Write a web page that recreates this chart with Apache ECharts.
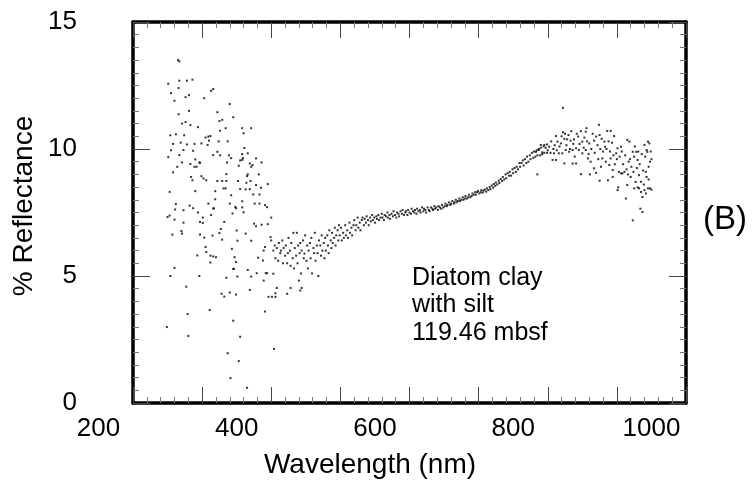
<!DOCTYPE html>
<html><head><meta charset="utf-8">
<script src="https://cdn.jsdelivr.net/npm/echarts@6/dist/echarts.min.js"></script>
<style>html,body{margin:0;padding:0;background:#fff}#c{width:752px;height:485px}</style>
</head><body><div id="c"></div>
<script>
// tick labels
const xTickLabels = [200, 400, 600, 800, 1000];
const yTickLabels = [0, 5, 10, 15];
const sampleLabel = 'Diatom clay\nwith silt\n119.46 mbsf';
const panelLabel = '(B)';

// [wavelength nm, % reflectance]
const shortWaveScatter = [
[315,13.5],[317,13.45],[301,12.57],[317,12.69],[328,12.69],[336,12.73],[316,12.4],[305,12.2],[331,12.12],[326,12.04],[310,11.9],[363,12.29],[366,12.36],[353,12.0],[390,11.77],[316,11.37],[331,11.5],[372,11.45],[395,11.25],[321,11.0],[326,11.06],[333,10.94],[344,10.86],[375,11.1],[379,11.15],[384,10.82],[376,10.72],[408,10.82],[421,10.82],[410,10.62],[304,10.54],[312,10.58],[324,10.54],[355,10.45],[359,10.49],[362,10.51],[308,10.2],[319,10.25],[328,10.18],[339,10.2],[349,10.22],[358,10.16],[360,10.33],[374,10.3],[387,10.3],[411,10.04],[301,9.68],[305,9.95],[317,9.76],[323,9.96],[337,9.93],[340,9.59],[346,9.47],[366,9.76],[372,9.89],[376,9.75],[389,9.75],[392,9.64],[408,9.8],[416,9.83],[428,9.63],[405,9.55],[408,9.57],[419,9.43],[423,9.37],[436,9.47],[409,9.64],[321,9.47],[314,9.3],[333,9.41],[339,9.3],[342,9.3],[347,9.46],[308,9.08],[386,9.47],[403,9.34],[421,9.3],[334,8.9],[336,8.77],[349,8.93],[352,8.84],[356,8.77],[372,8.74],[379,8.74],[385,8.74],[385,9.01],[402,8.74],[415,8.93],[416,9.0],[432,9.0],[414,8.67],[420,8.74],[428,8.58],[445,8.62],[435,8.47],[303,8.31],[340,8.34],[369,8.34],[381,8.45],[384,8.45],[392,8.18],[405,8.42],[408,7.94],[413,8.41],[419,8.42],[424,8.21],[433,8.21],[369,8.02],[312,7.83],[311,7.62],[332,7.77],[337,7.67],[359,7.85],[366,7.66],[367,7.66],[390,7.85],[399,7.67],[408,7.7],[426,7.85],[433,7.85],[441,7.79],[444,7.71],
[300,7.32],[303,7.38],[310,7.22],[323,7.59],[323,7.1],[307,6.63],[320,6.77],[321,6.67],[344,7.5],[347,7.13],[351,7.3],[351,7.09],[363,7.4],[365,6.59],[347,6.63],[353,6.51],[375,6.69],[377,6.85],[382,7.13],[379,6.43],[394,7.46],[398,7.72],[400,6.79],[401,6.39],[410,7.51],[413,6.67],[421,6.39],[425,7.06],[428,6.96],[436,7.02],[445,7.04],[450,7.3],[449,6.53],[450,6.4],[355,6.14],[356,5.94],[362,5.8],[366,5.77],[370,5.74],[362,5.53],[343,5.81],[393,6.07],[397,5.74],[399,5.55],[396,5.28],[431,5.72],[438,5.61],[439,6.0],[441,6.14],[442,5.11],[444,5.11],[453,5.09],[456,5.7],[310,5.32],[304,5.0],[327,4.58],[346,5.0],[329,3.5],[330,2.64],[299,2.99],[361,3.66],[385,4.93],[395,5.28],[401,4.98],[416,5.24],[419,4.45],[421,4.98],[429,5.11],[439,4.82],[378,4.3],[382,4.19],[390,4.35],[399,4.27],[395,3.24],[405,2.61],[387,1.96],[403,1.65],[391,0.98],[415,0.6],[454,2.13],[441,3.6],[446,4.18],[451,4.18],[456,4.18],[458,4.53],[456,4.32],[473,4.3],[478,4.53],[494,4.53],[492,4.43],[490,4.82]
];
const greenBand = [
[453,6.0],[455,6.2],[458,6.1],[460,5.6],[461,6.3],[463,5.9],[464,6.0],[466,6.4],[467,5.5],[468,6.1],[470,5.8],[471,6.2],[473,5.5],[474,5.9],[475,6.5],[477,6.0],[478,5.4],[479,6.3],[481,5.7],[482,6.7],[483,5.3],[484,6.1],[486,5.8],[487,6.7],[488,5.5],[489,6.2],[491,5.9],[492,6.3],[493,5.1],[494,6.0],[496,6.4],[497,5.7],[498,5.88],[499,6.6],[501,5.6],[502,6.2],[503,5.3],[504,6.0],[506,6.3],[507,5.7],[508,6.5],[509,5.1],[511,6.1],[512,5.9],[513,6.7],[514,5.6],[516,6.2],[517,5.9],[518,5.0],[519,6.4],[521,6.2],[522,5.8],[523,6.6],[524,6.0],[526,6.3],[527,5.7],[528,6.5],[529,6.0],[531,6.6],[532,6.2],[533,5.9],[534,6.8],[536,6.4],[537,6.1],[538,6.7],[539,6.3],[541,6.5],[542,6.9],[543,6.2],[544,6.6],[546,6.8],[547,6.4],[548,7.0],[549,6.6]
];
const visibleBand = [
[551,6.9],[552,6.4],[554,6.7],[555,6.5],[557,7.0],[558,6.6],[560,6.8],[561,6.5],[563,7.1],[564,6.7],[566,6.9],[567,6.6],[569,7.0],[570,7.2],[572,6.8],[573,7.0],[575,7.3],[576,6.9],[578,7.1],[579,6.8],[581,7.2],[582,7.3],[584,7.0],[585,7.25],[587,7.1],[588,7.35],[590,7.2],[591,7.0],[593,7.3],[594,7.15],[596,7.4],[597,7.2],[599,7.3],[600,7.1],[602,7.35],[603,7.25],[605,7.4],[606,7.2],[608,7.3],[610,7.45],[611,7.3],[613,7.2],[614,7.4],[616,7.35],[618,7.5],[619,7.3],[621,7.4],[622,7.25],[624,7.45],[626,7.35],[627,7.55],[629,7.4],[631,7.3],[632,7.5],[634,7.45],[635,7.35],[637,7.55],[639,7.45],[640,7.6],[642,7.4],[644,7.5],[645,7.55],[647,7.4],[648,7.6],[650,7.5],[652,7.45],[653,7.65],[655,7.55],[657,7.5],[658,7.6],[660,7.45],[661,7.65],[663,7.55],[665,7.6],[666,7.5],[668,7.7],[670,7.55],[671,7.65],[673,7.6],[674,7.5],[676,7.7],[678,7.6],[679,7.55],[681,7.7],[683,7.65],[684,7.6],[686,7.75],[687,7.65],[689,7.7],[691,7.6],[692,7.75],[694,7.7],[696,7.65],[697,7.8],[699,7.7],[701,7.75],[702,7.85],[704,7.75],[705,7.8],[707,7.9],[709,7.8],[710,7.85],[712,7.95],[714,7.85],[715,7.9],[717,8.0],[718,7.9],[720,7.95],[722,8.05],[723,7.95],[725,8.0],[727,8.1],[728,8.0],[730,8.05],[731,8.15],[733,8.05],[735,8.1],[736,8.2],[738,8.1],[740,8.15],[741,8.25],[743,8.2],[745,8.3],[746,8.2],[748,8.3],[749,8.35],[751,8.25],[753,8.3],[754,8.38],[756,8.28],[757,8.36],[759,8.4],[761,8.32],[762,8.45],[764,8.38],[766,8.5],[767,8.42],[769,8.56],[771,8.48],[772,8.62],[774,8.55],[775,8.68],[777,8.6],[779,8.75],[780,8.66],[782,8.82],[784,8.74],[785,8.9],[787,8.8],[789,9.0],[790,8.85],[792,9.05],[794,8.95],[795,9.1],[797,8.95],[799,9.2],[800,9.05],[802,9.25],[804,9.1],[805,9.3],[807,9.2],[809,9.45],[810,9.3],[812,9.45],[814,9.55],[815,9.35],[817,9.6],[819,9.45],[820,9.7],[822,9.5],[824,9.75],[825,9.6],[827,9.85],[829,9.65],[830,9.9],[832,9.7],[834,9.95],[835,9.0],[835,9.75],[837,10.0],[839,9.75],[840,10.05],[842,9.8],[844,10.1],[845,9.85],[847,10.05],[849,9.85],[850,9.95]
];
const nearInfrared = [
[872,11.62],[872,10.66],[906,10.82],[924,10.95],[936,10.71],[941,10.71],[946,10.51],[905,10.68],[862,10.51],[864,10.29],[869,10.22],[874,10.4],[878,10.38],[883,10.33],[888,10.38],[894,10.49],[900,10.29],[910,10.22],[917,10.33],[920,10.49],[925,10.55],[932,10.29],[933,10.09],[840,10.16],[845,10.16],[849,10.18],[852,10.09],[854,9.85],[859,9.83],[842,9.87],[833,9.89],[837,9.96],[857,9.57],[862,9.57],[866,9.83],[871,9.83],[876,9.96],[881,9.89],[886,9.96],[891,10.03],[895,9.96],[900,9.83],[905,9.96],[874,9.43],[886,9.43],[891,9.43],[898,9.01],[908,9.63],[911,9.0],[912,9.5],[917,9.24],[920,9.06],[925,8.75],[927,9.3],[929,9.63],[934,9.5],[939,9.37],[941,9.63],[944,9.17],[949,9.83],[951,10.03],[956,10.09],[953,9.1],[958,9.04],[961,9.1],[965,10.36],[968,10.29],[967,9.5],[973,9.89],[975,9.7],[978,9.89],[980,9.57],[982,8.97],[985,8.71],[990,10.16],[992,9.1],[995,10.29],[997,10.22],[998,9.5],[994,9.89],[993,9.96],[937,8.77],[944,8.9],[951,8.38],[952,8.49],[956,9.04],[963,8.05],[965,8.58],[973,7.19],[975,8.45],[980,8.49],[982,8.45],[985,8.31],[987,8.11],[987,7.52],[990,8.38],[995,8.45],[998,8.45],[992,8.25],[984,7.65],
[855,10.3],[858,10.0],[860,10.15],[863,9.95],[867,10.1],[870,10.5],[875,10.6],[877,10.15],[880,10.55],[882,10.0],[884,10.7],[887,10.2],[889,9.7],[892,10.6],[896,10.2],[898,10.7],[902,10.05],[903,10.45],[907,10.3],[909,9.8],[913,10.0],[915,10.6],[918,9.85],[922,10.15],[923,9.6],[926,10.0],[928,10.4],[930,9.9],[935,10.0],[938,10.3],[940,9.9],[943,10.25],[945,9.75],[947,9.4],[950,9.6],[954,9.7],[957,9.9],[959,9.4],[962,9.75],[964,9.2],[966,9.0],[969,9.6],[970,8.9],[971,9.3],[974,9.1],[976,10.1],[977,8.7],[979,9.25],[981,9.9],[983,9.4],[986,9.8],[988,9.15],[989,8.6],[991,9.7],[993,8.9],[996,9.3],[999,9.9],[1000,9.6],[1000,8.4],[996,8.8]
];

const FONT = '"Liberation Sans", Arial, Helvetica, sans-serif';
const chart = echarts.init(document.getElementById('c'), null, {renderer: 'canvas'});
const G = {top: 22, height: 381, width: 553};
const frameLine = {show: true, onZero: false, lineStyle: {color: '#000', width: 3.5}};
const xTicks = {show: true, inside: true, length: 16, lineStyle: {color: '#444', width: 1}};
const xMinor = {show: true, splitNumber: 5, length: 6, lineStyle: {color: '#777', width: 1}};
const yTicks = {show: true, inside: true, length: 17, lineStyle: {color: '#444', width: 1}};
const yMinor = {show: true, splitNumber: 10, length: 6, lineStyle: {color: '#777', width: 1}};

const allPoints = shortWaveScatter.concat(greenBand, visibleBand, nearInfrared);

chart.setOption({
  animation: false,
  backgroundColor: '#fff',
  grid: [
    Object.assign({left: 133}, G),
    Object.assign({left: 133 - 50 * 553 / 800}, G)
  ],
  xAxis: [
    {gridIndex: 0, type: 'value', min: 250, max: 1050, interval: 100, position: 'bottom',
     axisLine: frameLine, axisTick: xTicks, minorTick: xMinor, axisLabel: {show: false}, splitLine: {show: false}},
    {gridIndex: 0, type: 'value', min: 250, max: 1050, interval: 100, position: 'top',
     axisLine: frameLine, axisTick: xTicks, minorTick: xMinor, axisLabel: {show: false}, splitLine: {show: false}},
    {gridIndex: 1, type: 'value', min: xTickLabels[0], max: xTickLabels[xTickLabels.length - 1], interval: 200, position: 'bottom',
     axisLine: {show: false}, axisTick: {show: false}, splitLine: {show: false},
     axisLabel: {show: true, fontSize: 26, fontFamily: FONT, color: '#000', margin: 13,
       formatter: v => xTickLabels.indexOf(v) >= 0 ? String(v) : ''}}
  ],
  yAxis: [
    {gridIndex: 0, type: 'value', min: 0, max: 15, interval: 5, position: 'left',
     axisLine: frameLine, axisTick: yTicks, minorTick: yMinor, splitLine: {show: false},
     axisLabel: {show: true, fontSize: 26, fontFamily: FONT, color: '#000', margin: 56,
       formatter: v => yTickLabels.indexOf(v) >= 0 ? String(v) : ''}},
    {gridIndex: 0, type: 'value', min: 0, max: 15, interval: 5, position: 'right',
     axisLine: frameLine, axisTick: yTicks, minorTick: yMinor, splitLine: {show: false}, axisLabel: {show: false}},
    {gridIndex: 1, type: 'value', min: 0, max: 15, show: false}
  ],
  series: [{
    type: 'scatter', xAxisIndex: 0, yAxisIndex: 0, data: allPoints,
    symbol: 'rect', symbolSize: 2, itemStyle: {color: '#000'}, silent: true
  }],
  graphic: [
    {type: 'text', x: 24, y: 206, rotation: Math.PI / 2,
     style: {text: '% Reflectance', fontSize: 28, fontFamily: FONT, fill: '#000', textAlign: 'center', textVerticalAlign: 'middle'}},
    {type: 'text', x: 370, y: 465,
     style: {text: 'Wavelength (nm)', fontSize: 28, fontFamily: FONT, fill: '#000', textAlign: 'center', textVerticalAlign: 'middle'}},
    {type: 'text', x: 412, y: 264,
     style: {text: sampleLabel, fontSize: 25, lineHeight: 27.5, fontFamily: FONT, fill: '#000', textAlign: 'left', textVerticalAlign: 'top'}},
    {type: 'text', x: 725, y: 220,
     style: {text: panelLabel, fontSize: 33, fontFamily: FONT, fill: '#000', textAlign: 'center', textVerticalAlign: 'middle'}}
  ]
});
</script>
</body></html>
